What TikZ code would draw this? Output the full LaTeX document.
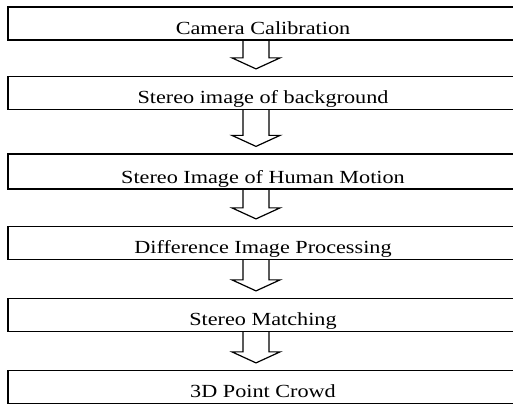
\documentclass[tikz,border=0pt]{standalone}
\usepackage{fontspec}
\setmainfont{Liberation Serif}[FakeStretch=1.2]
\usetikzlibrary{calc}

\newcommand{\flowarrow}[2]{%
  \draw let \p1=(#1.south -| axis), \p2=(#2.north -| axis) in
    (\x1-13pt,\y1) -- (\x1-13pt,\y2+18pt) -- (\x1-24pt,\y2+18pt)
    -- (\x1,\y2+7pt) -- (\x1+24pt,\y2+18pt) -- (\x1+13pt,\y2+18pt)
    -- (\x1+13pt,\y1);}

\begin{document}
\begin{tikzpicture}[x=1pt,y=1pt,
    stage/.style={draw,
        rectangle,
        line width=1.2pt,
        minimum width=510pt,
        inner ysep=0pt,
        text height=27.5pt,
        text depth=5.5pt,
        font=\fontsize{18.5}{20}\selectfont},
    line width=1.2pt]

\path[use as bounding box,clip] (0,0) rectangle (513,406);
\coordinate (axis) at (256,0);

% Stages
\node [stage] (calib) at (263,382.5) {Camera Calibration};
\node [stage] (backgr) at (263,313) {Stereo image of background};
\node [stage,text height=29.5pt] (motion) at (263,234.5) {Stereo Image of Human Motion};
\node [stage] (diff) at (263,163) {Difference Image Processing};
\node [stage] (match) at (263,91) {Stereo Matching};
\node [stage] (crowd) at (263,19) {3D Point Crowd};

% Arrows
\flowarrow{calib}{backgr}
\flowarrow{backgr}{motion}
\flowarrow{motion}{diff}
\flowarrow{diff}{match}
\flowarrow{match}{crowd}

\end{tikzpicture}
\end{document}
